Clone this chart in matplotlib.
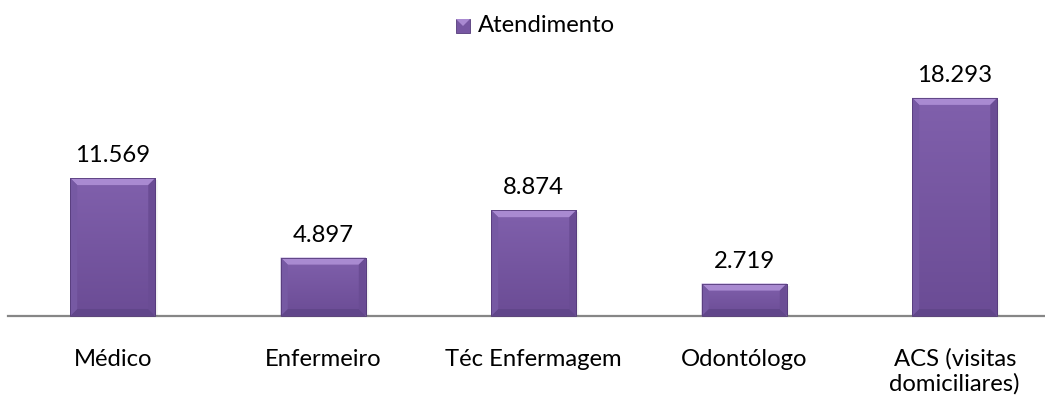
import matplotlib
matplotlib.use("Agg")
import matplotlib.pyplot as plt
import numpy as np
from matplotlib.patches import Polygon, Rectangle
from matplotlib.transforms import IdentityTransform
from matplotlib.colors import LinearSegmentedColormap

categories = ["Médico", "Enfermeiro", "Téc Enfermagem", "Odontólogo", "ACS (visitas\ndomiciliares)"]
values = [11.569, 4.897, 8.874, 2.719, 18.293]
value_labels = ["11.569", "4.897", "8.874", "2.719", "18.293"]
series_name = "Atendimento"

plt.rcParams["font.family"] = ["Lato", "DejaVu Sans"]
FS = 17.2

W, H = 1045, 401
fig = plt.figure(figsize=(W / 100, H / 100), dpi=100)
ax = fig.add_axes([7.5 / W, (H - 316) / H, 1052.5 / W, 240 / H])

x = np.arange(len(categories))
bars = ax.bar(x, values, width=0.404, color="#7757A2", zorder=2, linewidth=0)
ax.set_xlim(-0.5, len(categories) - 0.5)
ax.set_ylim(0, 20.13)

for s in ["top", "right", "left"]:
    ax.spines[s].set_visible(False)
ax.spines["bottom"].set_color("#868686")
ax.spines["bottom"].set_linewidth(1.6)
ax.set_yticks([])
ax.set_xticks([])

face_cmap = LinearSegmentedColormap.from_list("face", ["#8060AC", "#6B4C95"])
grad = np.linspace(0, 1, 64).reshape(-1, 1)

fig.canvas.draw()
bev = 7
for b in bars:
    x0, y0 = b.get_x(), b.get_y()
    w, h = b.get_width(), b.get_height()
    # vertical gradient on the bar face
    im = ax.imshow(grad, extent=(x0, x0 + w, y0, y0 + h), aspect="auto",
                   cmap=face_cmap, origin="upper", zorder=2.1)
    im.set_clip_path(b)
    # bevel edges in pixel coordinates
    (px0, py0), (px1, py1) = ax.transData.transform([(x0, y0), (x0 + w, y0 + h)])
    bv = min(bev, (py1 - py0) / 2.2)
    outer = [(px0, py0), (px1, py0), (px1, py1), (px0, py1)]
    inner = [(px0 + bv, py0 + bv), (px1 - bv, py0 + bv), (px1 - bv, py1 - bv), (px0 + bv, py1 - bv)]
    sides = [
        ([outer[3], outer[2], inner[2], inner[3]], "#A98AD1"),  # top
        ([outer[0], outer[1], inner[1], inner[0]], "#61468A"),  # bottom
        ([outer[0], outer[3], inner[3], inner[0]], "#7659A3"),  # left
        ([outer[1], outer[2], inner[2], inner[1]], "#6A4C94"),  # right
    ]
    for pts, col in sides:
        fig.add_artist(Polygon(pts, closed=True, transform=IdentityTransform(),
                               facecolor=col, edgecolor="none", zorder=3))
    # soft shadow on the right side
    for k, a in enumerate([0.10, 0.06, 0.03]):
        fig.add_artist(Rectangle((px1 + k, py0), 1.2, py1 - py0 - 2, transform=IdentityTransform(),
                                 facecolor="black", alpha=a, edgecolor="none", zorder=1))
    fig.add_artist(Polygon(outer, closed=True, transform=IdentityTransform(),
                           facecolor="none", edgecolor="#553B7A", linewidth=0.6, zorder=3.5))

# value labels above the bars
for xi, v, lab in zip(x, values, value_labels):
    ax.annotate(lab, (xi, v), xytext=(0, 11.5), textcoords="offset points",
                ha="center", va="baseline", fontsize=FS, color="#000000")

# category labels below the axis, one line at a time
for xi, c in zip(x, categories):
    for i, line in enumerate(c.split("\n")):
        ax.annotate(line, (xi, 0), xytext=(0, -36 - i * 18), textcoords="offset points",
                    ha="center", va="baseline", fontsize=FS, color="#000000",
                    annotation_clip=False)

# legend
fig.add_artist(Rectangle((456, H - 33), 14, 14, transform=IdentityTransform(),
                         facecolor="#7757A2", edgecolor="#553B7A", linewidth=0.6))
fig.add_artist(Polygon([(456, H - 19), (470, H - 19), (463, H - 26)], closed=True,
                       transform=IdentityTransform(), facecolor="#A98AD1", edgecolor="none"))
fig.text(478 / W, 1 - 32 / H, series_name, ha="left", va="baseline", fontsize=FS, color="#000000")

fig.savefig("out.png", dpi=100)
